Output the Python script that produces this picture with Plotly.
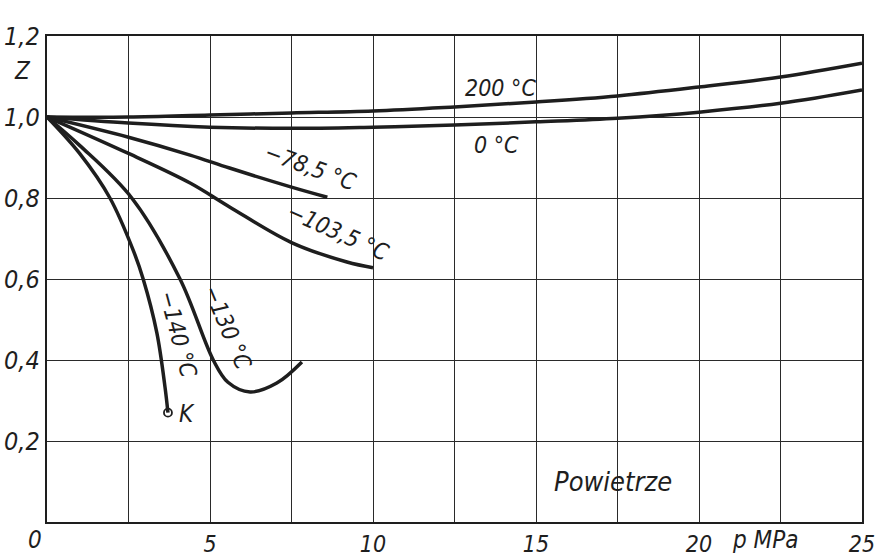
import plotly.graph_objects as go

# Data (p in MPa, Z)
p_200 = [0, 2.5, 5, 7.5, 10, 12.5, 15, 17.5, 20, 22.5, 25]
z_200 = [1.0, 1.0, 1.005, 1.01, 1.015, 1.025, 1.037, 1.052, 1.074, 1.099, 1.133]

p_0 = [0, 2.5, 5, 7.5, 10, 12.5, 15, 17.5, 20, 22.5, 25]
z_0 = [1.0, 0.985, 0.975, 0.972, 0.975, 0.98, 0.988, 0.997, 1.012, 1.034, 1.067]

p_785 = [0, 2.5, 4.39, 5.6, 7.5, 8.6]
z_785 = [1.0, 0.95, 0.906, 0.874, 0.827, 0.802]

p_1035 = [0, 2.5, 4.39, 5.6, 7.5, 9.2, 10.0]
z_1035 = [1.0, 0.91, 0.837, 0.778, 0.69, 0.642, 0.628]

p_130 = [0, 1.0, 2.6, 4.08, 5.1, 5.55, 6.23, 7.05, 7.82]
z_130 = [1.0, 0.93, 0.80, 0.60, 0.40, 0.345, 0.321, 0.343, 0.395]

p_140 = [0, 1.0, 1.93, 2.64, 2.95, 3.37, 3.62, 3.71]
z_140 = [1.0, 0.91, 0.80, 0.672, 0.60, 0.467, 0.333, 0.27]

crit_p = [3.71]
crit_z = [0.27]

x_ticks = [0, 2.5, 5, 7.5, 10, 12.5, 15, 17.5, 20, 22.5, 25]
x_labels = ["", "", "5", "", "10", "", "15", "", "20", "", "25"]
y_ticks = [0, 0.2, 0.4, 0.6, 0.8, 1.0, 1.2]
y_labels = ["", "0,2", "0,4", "0,6", "0,8", "1,0", "1,2"]

INK = "#1e1e1e"
FONT = "Liberation Sans Narrow, DejaVu Sans Condensed, DejaVu Sans, sans-serif"

W, H = 876, 558
L, R, T, B = 47, 14, 36, 36
pw, ph = W - L - R, H - T - B

fig = go.Figure()
for px_, pz_ in [(p_200, z_200), (p_0, z_0), (p_785, z_785), (p_1035, z_1035),
                 (p_130, z_130), (p_140, z_140)]:
    fig.add_trace(go.Scatter(x=px_, y=pz_, mode="lines",
                             line=dict(color=INK, width=3.5, shape="spline", smoothing=1.0),
                             showlegend=False, hoverinfo="skip"))
fig.add_trace(go.Scatter(x=crit_p, y=crit_z, mode="markers",
                         marker=dict(symbol="circle-open", size=8, color=INK, line=dict(width=1.8)),
                         showlegend=False, hoverinfo="skip"))

def lf(size):
    return dict(family=FONT, size=size, color=INK, style="italic")

annots = [
    ("200 °C", 13.9, 1.072, 0, 23),
    ("0 °C", 13.8, 0.931, 0, 23),
    ("−78,5 °C", 8.07, 0.877, 20, 23),
    ("−103,5 °C", 8.93, 0.716, 24, 23),
    ("−130 °C", 5.55, 0.479, 67, 23),
    ("−140 °C", 4.02, 0.464, 75, 23),
    ("K", 4.3, 0.267, 0, 24),
    ("Powietrze", 17.36, 0.099, 0, 27),
]
for txt, ax_, ay_, ang, sz in annots:
    fig.add_annotation(x=ax_, y=ay_, text=txt, showarrow=False, textangle=ang,
                       font=lf(sz), xref="x", yref="y")

def paper(sx, sy):
    return (sx - L) / pw, (H - B - sy) / ph

for txt, (sx, sy) in [("p MPa", (765, 540)), ("Z", (22, 71)), ("0", (35, 540))]:
    xp, yp = paper(sx, sy)
    fig.add_annotation(x=xp, y=yp, text=txt, showarrow=False, xref="paper", yref="paper",
                       xanchor="center", yanchor="middle", font=lf(24))

axis_common = dict(showgrid=True, gridcolor="#2a2a2a", gridwidth=1.4,
                   showline=True, linecolor=INK, linewidth=2.4, mirror=True,
                   zeroline=False, ticks="", automargin=False,
                   ticklabeloverflow="allow")

fig.update_xaxes(range=[0, 25], tickmode="array", tickvals=x_ticks, ticktext=x_labels,
                 tickfont=lf(23), **axis_common)
fig.update_yaxes(range=[0, 1.2], tickmode="array", tickvals=y_ticks, ticktext=y_labels,
                 tickfont=lf(25), **axis_common)

fig.update_layout(width=W, height=H, margin=dict(l=L, r=R, t=T, b=B),
                  plot_bgcolor="white", paper_bgcolor="white")

fig.write_html("out.html", config={"displayModeBar": False},
               post_script="document.body.style.margin='0px';document.body.style.overflow='hidden';")
